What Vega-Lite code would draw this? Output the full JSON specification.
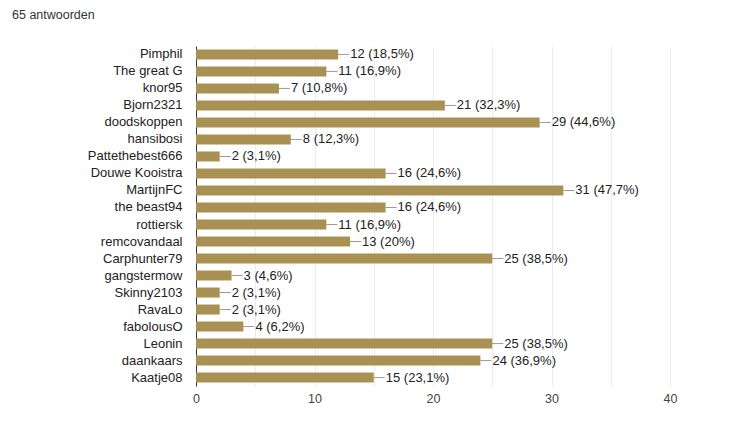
{
  "$schema": "https://vega.github.io/schema/vega-lite/v6.json",
  "autosize": {"type": "none"},
  "width": 474,
  "height": 340,
  "padding": {"left": 196, "top": 46, "right": 82, "bottom": 55},
  "background": "white",
  "title": {
    "text": "65 antwoorden",
    "anchor": "start",
    "frame": "group",
    "dx": -184,
    "offset": 25,
    "font": "Liberation Sans",
    "fontSize": 12.5,
    "fontWeight": "normal",
    "color": "#333333"
  },
  "config": {
    "view": {"stroke": null},
    "font": "Liberation Sans"
  },
  "data": {
    "values": [
      {"name": "Pimphil", "count": 12, "label": "12 (18,5%)"},
      {"name": "The great G", "count": 11, "label": "11 (16,9%)"},
      {"name": "knor95", "count": 7, "label": "7 (10,8%)"},
      {"name": "Bjorn2321", "count": 21, "label": "21 (32,3%)"},
      {"name": "doodskoppen", "count": 29, "label": "29 (44,6%)"},
      {"name": "hansibosi", "count": 8, "label": "8 (12,3%)"},
      {"name": "Pattethebest666", "count": 2, "label": "2 (3,1%)"},
      {"name": "Douwe Kooistra", "count": 16, "label": "16 (24,6%)"},
      {"name": "MartijnFC", "count": 31, "label": "31 (47,7%)"},
      {"name": "the beast94", "count": 16, "label": "16 (24,6%)"},
      {"name": "rottiersk", "count": 11, "label": "11 (16,9%)"},
      {"name": "remcovandaal", "count": 13, "label": "13 (20%)"},
      {"name": "Carphunter79", "count": 25, "label": "25 (38,5%)"},
      {"name": "gangstermow", "count": 3, "label": "3 (4,6%)"},
      {"name": "Skinny2103", "count": 2, "label": "2 (3,1%)"},
      {"name": "RavaLo", "count": 2, "label": "2 (3,1%)"},
      {"name": "fabolousO", "count": 4, "label": "4 (6,2%)"},
      {"name": "Leonin", "count": 25, "label": "25 (38,5%)"},
      {"name": "daankaars", "count": 24, "label": "24 (36,9%)"},
      {"name": "Kaatje08", "count": 15, "label": "15 (23,1%)"}
    ]
  },
  "encoding": {
    "y": {
      "field": "name",
      "type": "nominal",
      "sort": null,
      "scale": {"paddingInner": 0.41, "paddingOuter": 0.2},
      "axis": {
        "title": null,
        "ticks": false,
        "domainColor": "#333333",
        "domainWidth": 1,
        "labelFont": "Liberation Sans",
        "labelFontSize": 13,
        "labelColor": "#222222",
        "labelPadding": 14,
        "grid": false
      }
    }
  },
  "layer": [
    {
      "mark": {"type": "bar", "color": "#a89152"},
      "encoding": {
        "x": {
          "field": "count",
          "type": "quantitative",
          "scale": {"domain": [0, 40], "nice": false},
          "axis": {
            "title": null,
            "values": [0, 5, 10, 15, 20, 25, 30, 35, 40],
            "labelExpr": "datum.value % 10 === 0 ? datum.label : ''",
            "labelFlush": false,
            "labelOverlap": false,
            "ticks": false,
            "domain": false,
            "grid": true,
            "gridColor": "#ebebeb",
            "labelFont": "Liberation Sans",
            "labelFontSize": 12.5,
            "labelColor": "#444444",
            "labelPadding": 6
          }
        }
      }
    },
    {
      "mark": {"type": "rule", "color": "#999999", "strokeWidth": 1, "x2Offset": 11},
      "encoding": {
        "x": {"field": "count", "type": "quantitative"},
        "x2": {"field": "count"}
      }
    },
    {
      "mark": {"type": "text", "align": "left", "dx": 12, "fontSize": 13, "color": "#222222", "font": "Liberation Sans"},
      "encoding": {
        "x": {"field": "count", "type": "quantitative"},
        "text": {"field": "label"}
      }
    }
  ]
}
